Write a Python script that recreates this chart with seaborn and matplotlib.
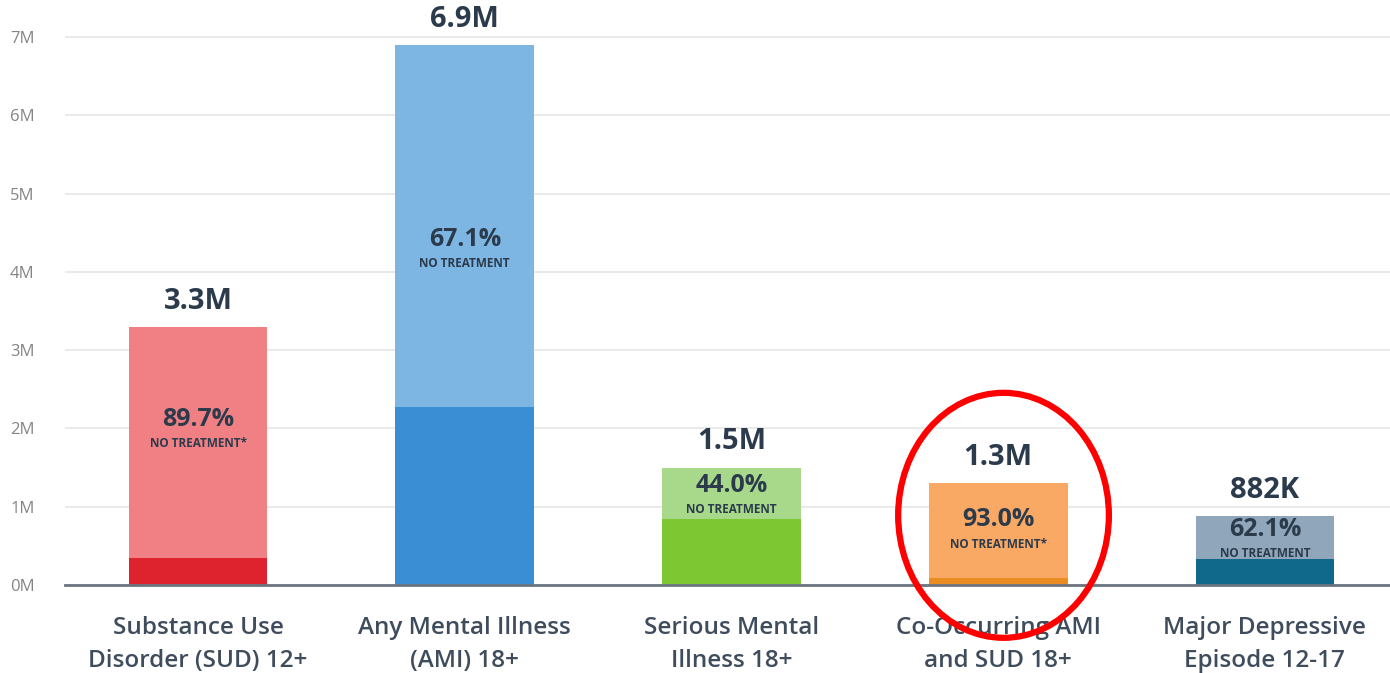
import matplotlib
matplotlib.use("Agg")
import matplotlib.pyplot as plt
from matplotlib.patches import Ellipse
import seaborn as sns
import pandas as pd

# chart data
categories = ["Substance Use\nDisorder (SUD) 12+", "Any Mental Illness\n(AMI) 18+",
              "Serious Mental\nIllness 18+", "Co-Occurring AMI\nand SUD 18+",
              "Major Depressive\nEpisode 12-17"]
totals = [3.3, 6.9, 1.5, 1.3, 0.882]          # millions
no_treatment_pct = [89.7, 67.1, 44.0, 93.0, 62.1]
total_labels = ["3.3M", "6.9M", "1.5M", "1.3M", "882K"]
note_labels = ["NO TREATMENT*", "NO TREATMENT", "NO TREATMENT", "NO TREATMENT*", "NO TREATMENT"]
yticks = [0, 1, 2, 3, 4, 5, 6, 7]
highlight = "Co-Occurring AMI\nand SUD 18+"

light_colors = ["#F08084", "#7DB5E3", "#A8D98A", "#F9A964", "#8FA6BB"]
dark_colors = ["#DF232E", "#3A8FD4", "#7DC832", "#E98D22", "#10698A"]

treated = [t * (1 - p / 100) for t, p in zip(totals, no_treatment_pct)]
df = pd.DataFrame({"category": categories, "total": totals, "treated": treated})

sns.set_theme(style="white")
plt.rcParams["font.family"] = ["Open Sans", "DejaVu Sans"]

fig = plt.figure(figsize=(13.9, 6.73), dpi=100)
ax = fig.add_axes([0.0468, 0.1308, 0.9532, 0.849])

sns.barplot(data=df, x="category", y="total", hue="category", palette=light_colors,
            width=0.52, legend=False, ax=ax, saturation=1, linewidth=0, zorder=2)
sns.barplot(data=df, x="category", y="treated", hue="category", palette=dark_colors,
            width=0.52, legend=False, ax=ax, saturation=1, linewidth=0, zorder=3)

ax.set_xlim(-0.4986, 4.469)
ax.set_ylim(0, 7.3)
ax.set_yticks(yticks)
ax.set_yticklabels([f"{v}M" for v in yticks], fontsize=12, color="#858585")
ax.yaxis.grid(True, color="#E6E6E6", linewidth=1.2, zorder=0)
ax.set_axisbelow(True)
for s in ["top", "right", "left"]:
    ax.spines[s].set_visible(False)
ax.spines["bottom"].set_color("#6B7580")
ax.spines["bottom"].set_linewidth(2)
ax.spines["bottom"].set_zorder(5)
ax.tick_params(axis="y", length=0, pad=22)
ax.tick_params(axis="x", length=0, pad=22)
ax.set_xticks(range(len(categories)))
ax.set_xticklabels(categories, fontsize=17.5, fontweight="semibold", color="#3E4C5C", linespacing=1.5)
ax.set_xlabel("")
ax.set_ylabel("")

text_color = "#2B3B4C"
for i, (tot, tr, pct, tl, note) in enumerate(zip(totals, treated, no_treatment_pct,
                                                   total_labels, note_labels)):
    ax.annotate(tl, (i, tot), xytext=(0, 8), textcoords="offset points",
                ha="center", va="bottom", fontsize=21, fontweight="bold", color=text_color)
    # percent label ~2/3 up the bar, unless it would run into the dark part
    anchor = 0.64 * tot
    if anchor - tr < 0.4:
        anchor = (tot + tr) / 2 + 0.1
    ax.annotate(f"{pct:.1f}%", (i, anchor), xytext=(0, 0), textcoords="offset points",
                ha="center", va="center", fontsize=18, fontweight="bold", color=text_color, zorder=6)
    ax.annotate(note, (i, anchor), xytext=(0, -17.5), textcoords="offset points",
                ha="center", va="center", fontsize=8.5, fontweight="bold", color=text_color, zorder=6)

# red ellipse highlighting one category
hx = categories.index(highlight)
ell = Ellipse((hx + 0.02, 0.89), width=0.79, height=3.13, fill=False,
              edgecolor="#FF0000", linewidth=4.5, clip_on=False, zorder=10)
ax.add_patch(ell)

fig.savefig("out.png", dpi=100)
